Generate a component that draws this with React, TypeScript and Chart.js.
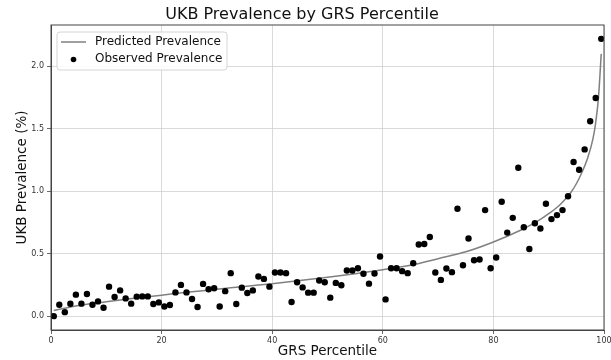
import React, { useEffect, useRef } from "react";
import { Chart, registerables } from "chart.js";

Chart.register(...registerables);

const FONT = "'DejaVu Sans', sans-serif";

const chartTitle = "UKB Prevalence by GRS Percentile";
const xTitle = "GRS Percentile";
const yTitle = "UKB Prevalence (%)";
const predictedLabel = "Predicted Prevalence";
const observedLabel = "Observed Prevalence";

const xTicks = [0, 20, 40, 60, 80, 100];
const yTicks = [0, 0.5, 1.0, 1.5, 2.0];

const percentiles = [
  0.5, 1.5, 2.5, 3.5, 4.5, 5.5, 6.5, 7.5, 8.5, 9.5,
  10.5, 11.5, 12.5, 13.5, 14.5, 15.5, 16.5, 17.5, 18.5, 19.5,
  20.5, 21.5, 22.5, 23.5, 24.5, 25.5, 26.5, 27.5, 28.5, 29.5,
  30.5, 31.5, 32.5, 33.5, 34.5, 35.5, 36.5, 37.5, 38.5, 39.5,
  40.5, 41.5, 42.5, 43.5, 44.5, 45.5, 46.5, 47.5, 48.5, 49.5,
  50.5, 51.5, 52.5, 53.5, 54.5, 55.5, 56.5, 57.5, 58.5, 59.5,
  60.5, 61.5, 62.5, 63.5, 64.5, 65.5, 66.5, 67.5, 68.5, 69.5,
  70.5, 71.5, 72.5, 73.5, 74.5, 75.5, 76.5, 77.5, 78.5, 79.5,
  80.5, 81.5, 82.5, 83.5, 84.5, 85.5, 86.5, 87.5, 88.5, 89.5,
  90.5, 91.5, 92.5, 93.5, 94.5, 95.5, 96.5, 97.5, 98.5, 99.5,
];

const observed = [
  0.0, 0.091, 0.032, 0.099, 0.172, 0.1, 0.177, 0.091, 0.118, 0.067,
  0.236, 0.153, 0.206, 0.142, 0.1, 0.156, 0.158, 0.158, 0.097, 0.11,
  0.077, 0.089, 0.19, 0.25, 0.19, 0.137, 0.073, 0.258, 0.215, 0.223,
  0.077, 0.2, 0.344, 0.097, 0.228, 0.185, 0.206, 0.317, 0.298, 0.236,
  0.349, 0.349, 0.344, 0.113, 0.271, 0.23, 0.188, 0.188, 0.285, 0.271,
  0.148, 0.266, 0.247, 0.365, 0.365, 0.384, 0.339, 0.26, 0.341, 0.478,
  0.134, 0.384, 0.384, 0.36, 0.344, 0.424, 0.573, 0.578, 0.634, 0.349,
  0.29, 0.381, 0.352, 0.86, 0.408, 0.621, 0.448, 0.454, 0.849, 0.384,
  0.47, 0.916, 0.669, 0.787, 1.188, 0.712, 0.537, 0.744, 0.702, 0.9,
  0.777, 0.809, 0.849, 0.96, 1.234, 1.172, 1.335, 1.56, 1.747, 2.22,
];

const predictedX = [
  0.5, 5, 10, 15, 20, 25, 30, 35, 40, 45, 50, 55, 60, 65, 70, 75, 80, 85,
  88, 90, 92, 94, 95, 96, 97, 98, 98.5, 99, 99.5,
];
const predictedY = [
  0.045, 0.085, 0.115, 0.143, 0.168, 0.193, 0.215, 0.238, 0.26, 0.285,
  0.312, 0.34, 0.372, 0.408, 0.46, 0.515, 0.594, 0.69, 0.76, 0.82, 0.89,
  0.99, 1.06, 1.15, 1.26, 1.42, 1.55, 1.75, 2.1,
];

const LINE_COLOR = "#808080";
const POINT_COLOR = "#000000";
const SPINE = "#444444";
const GRID = "#d0d0d0";

const framePlugin = {
  id: "frameAndLegend",
  afterDraw(chart: any) {
    const { ctx, chartArea } = chart;
    const { left, right, top, bottom } = chartArea;
    ctx.save();
    // spines
    ctx.strokeStyle = SPINE;
    ctx.lineWidth = 1;
    ctx.strokeRect(left, top, right - left, bottom - top);

    // legend box
    const bx = left + 6;
    const by = top + 7;
    const bw = 170;
    const bh = 38;
    const r = 3;
    ctx.beginPath();
    ctx.moveTo(bx + r, by);
    ctx.lineTo(bx + bw - r, by);
    ctx.arcTo(bx + bw, by, bx + bw, by + r, r);
    ctx.lineTo(bx + bw, by + bh - r);
    ctx.arcTo(bx + bw, by + bh, bx + bw - r, by + bh, r);
    ctx.lineTo(bx + r, by + bh);
    ctx.arcTo(bx, by + bh, bx, by + bh - r, r);
    ctx.lineTo(bx, by + r);
    ctx.arcTo(bx, by, bx + r, by, r);
    ctx.closePath();
    ctx.fillStyle = "rgba(255,255,255,0.85)";
    ctx.fill();
    ctx.strokeStyle = "#d4d4d4";
    ctx.lineWidth = 1;
    ctx.stroke();

    const ds = chart.data.datasets;
    const row1 = by + 10;
    const row2 = by + 27;
    // line sample
    ctx.strokeStyle = LINE_COLOR;
    ctx.lineWidth = 1.5;
    ctx.beginPath();
    ctx.moveTo(bx + 4, row1);
    ctx.lineTo(bx + 29, row1);
    ctx.stroke();
    // dot sample
    ctx.fillStyle = POINT_COLOR;
    ctx.beginPath();
    ctx.arc(bx + 16.5, row2 + 0.5, 2.8, 0, Math.PI * 2);
    ctx.fill();

    ctx.fillStyle = "#111111";
    ctx.font = `12px ${FONT}`;
    ctx.textBaseline = "middle";
    ctx.textAlign = "left";
    ctx.fillText(ds[0].label, bx + 38, row1);
    ctx.fillText(ds[1].label, bx + 38, row2);
    ctx.restore();
  },
};

export default function App() {
  const canvasRef = useRef<HTMLCanvasElement | null>(null);

  useEffect(() => {
    document.body.style.margin = "0";
    const canvas = canvasRef.current;
    if (!canvas) return;

    const chart = new Chart(canvas, {
      type: "scatter",
      data: {
        datasets: [
          {
            type: "line",
            label: predictedLabel,
            data: predictedX.map((x, i) => ({ x, y: predictedY[i] })),
            borderColor: LINE_COLOR,
            borderWidth: 1.5,
            pointRadius: 0,
            showLine: true,
            fill: false,
            cubicInterpolationMode: "monotone",
            order: 1,
          } as any,
          {
            type: "scatter",
            label: observedLabel,
            data: percentiles.map((x, i) => ({ x, y: observed[i] })),
            backgroundColor: POINT_COLOR,
            borderColor: POINT_COLOR,
            pointRadius: 3.2,
            borderWidth: 0,
            order: 0,
          } as any,
        ],
      },
      options: {
        responsive: false,
        animation: false,
        events: [],
        layout: { padding: { left: 0, right: 7, top: 0, bottom: 0 } },
        plugins: {
          legend: { display: false },
          tooltip: { enabled: false },
          title: {
            display: true,
            text: chartTitle,
            color: "#111111",
            font: { family: FONT, size: 16, weight: "normal" },
            padding: { top: 5, bottom: 0.8 },
          },
        },
        scales: {
          x: {
            type: "linear",
            min: 0,
            max: 100,
            bounds: "data",
            afterBuildTicks: (s: any) => {
              s.ticks = xTicks.map((v) => ({ value: v }));
            },
            afterFit: (s: any) => {
              s.height = 30;
              s.paddingLeft = 0;
              s.paddingRight = 0;
            },
            ticks: {
              font: { family: FONT, size: 8 },
              color: "#333333",
              padding: 2,
              maxRotation: 0,
              callback: (v: any) => String(v),
            },
            grid: {
              color: GRID,
              lineWidth: 0.8,
              tickLength: 4,
              tickColor: SPINE,
            },
            border: { display: true, color: SPINE, width: 1 },
            title: {
              display: true,
              text: xTitle,
              color: "#111111",
              font: { family: FONT, size: 13.5 },
              padding: { top: 0, bottom: 0 },
            },
          },
          y: {
            type: "linear",
            min: -0.111,
            max: 2.331,
            bounds: "data",
            afterBuildTicks: (s: any) => {
              s.ticks = yTicks.map((v) => ({ value: v }));
            },
            afterFit: (s: any) => {
              s.width = 51;
              s.paddingTop = 0;
              s.paddingBottom = 0;
            },
            ticks: {
              font: { family: FONT, size: 8 },
              color: "#333333",
              padding: 3,
              callback: (v: any) => Number(v).toFixed(1),
            },
            grid: {
              color: GRID,
              lineWidth: 0.8,
              tickLength: 4,
              tickColor: SPINE,
            },
            border: { display: true, color: SPINE, width: 1 },
            title: {
              display: true,
              text: yTitle,
              color: "#111111",
              font: { family: FONT, size: 13.5 },
              padding: { top: 14, bottom: 0 },
            },
          },
        },
      } as any,
      plugins: [framePlugin],
    });

    return () => chart.destroy();
  }, []);

  return (
    <canvas
      ref={canvasRef}
      width={611}
      height={360}
      style={{ display: "block", width: "611px", height: "360px" }}
    />
  );
}
